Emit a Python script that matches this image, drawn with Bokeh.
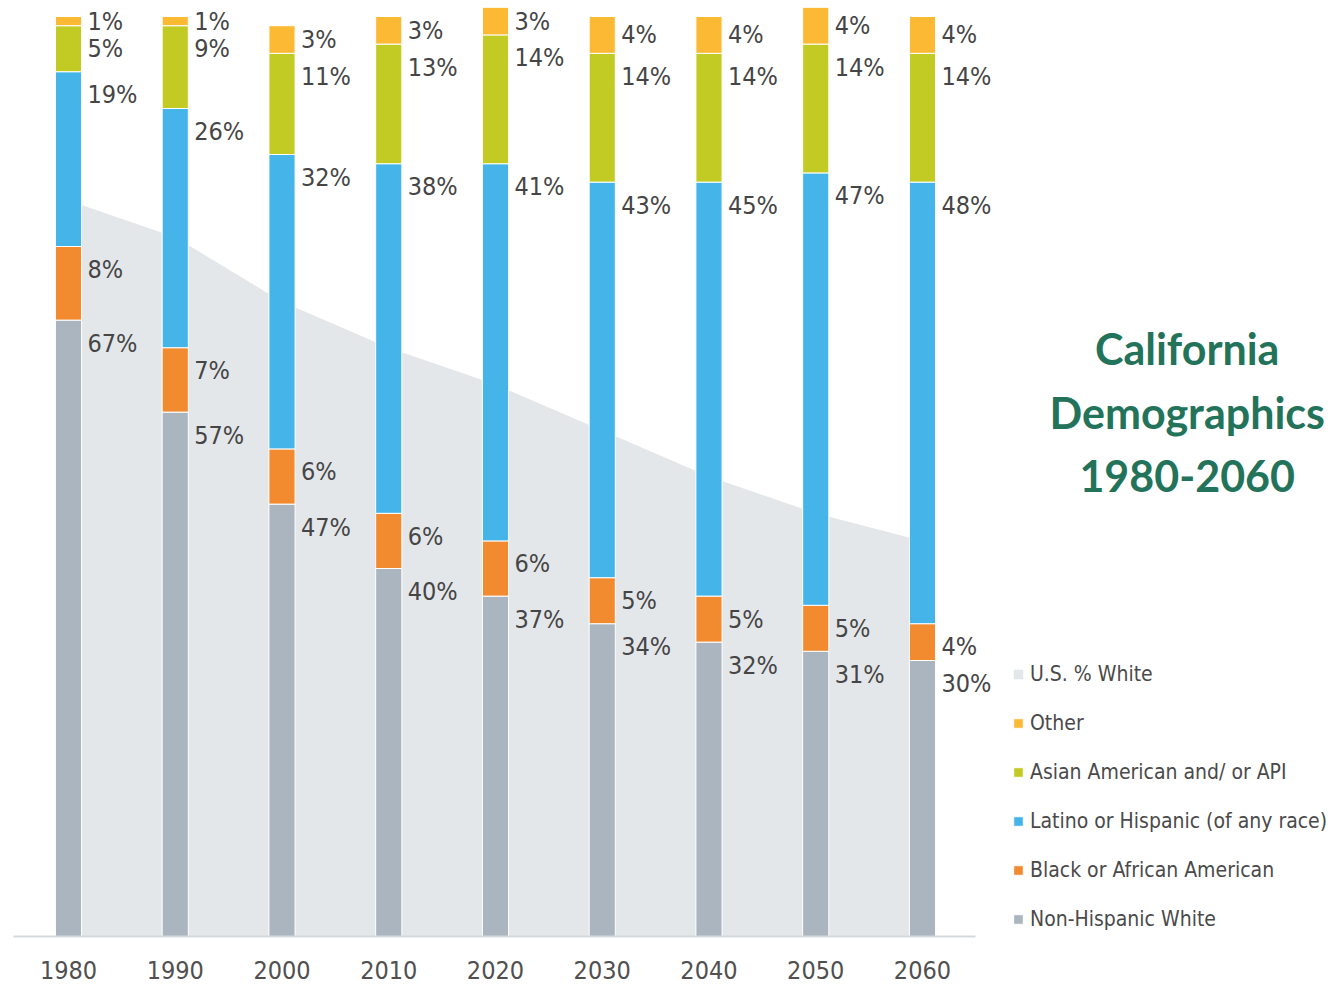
from bokeh.plotting import figure
from bokeh.models import (ColumnDataSource, Range1d, FixedTicker, Legend, LegendItem, Label)
from bokeh.core.properties import value
from bokeh.embed import file_html
from bokeh.resources import INLINE

years = [1980, 1990, 2000, 2010, 2020, 2030, 2040, 2050, 2060]
non_hispanic_white = [67, 57, 47, 40, 37, 34, 32, 31, 30]
black = [8, 7, 6, 6, 6, 5, 5, 5, 4]
latino = [19, 26, 32, 38, 41, 43, 45, 47, 48]
asian = [5, 9, 11, 13, 14, 14, 14, 14, 14]
other = [1, 1, 3, 3, 3, 4, 4, 4, 4]
us_white = [80, 76, 69, 64, 60, 55, 50, 46, 43]

series_keys = ["nhw", "black", "latino", "asian", "other"]
series_names = ["Non-Hispanic White", "Black or African American",
                "Latino or Hispanic (of any race)", "Asian American and/ or API", "Other"]
colors = ["#abb5bf", "#f28a30", "#45b5e9", "#c2cb24", "#fbb934"]
us_color = "#e4e7ea"
title_lines = ["California", "Demographics", "1980-2060"]

NARROW = "'Liberation Sans Narrow', 'Arial Narrow', 'DejaVu Sans Condensed', sans-serif"

src = ColumnDataSource(dict(year=years, nhw=non_hispanic_white, black=black,
                            latino=latino, asian=asian, other=other, us=us_white))

W, H = 1340, 990
p = figure(width=W, height=H, output_backend="svg", toolbar_location=None,
           x_range=Range1d(1973.63, 2099.16), y_range=Range1d(0, 101.74),
           min_border_left=0, min_border_right=0, min_border_top=0,
           min_border_bottom=54)
p.outline_line_color = None
p.grid.visible = False
p.yaxis.visible = False
p.background_fill_color = "white"
p.border_fill_color = "white"

area = p.varea(x="year", y1=0, y2="us", source=src, fill_color=us_color)

bars = p.vbar_stack(series_keys, x="year", width=2.45, source=src,
                    color=colors, line_color="white", line_width=1)

# percent labels
cum = [0] * len(years)
for key, vals in zip(series_keys, [non_hispanic_white, black, latino, asian, other]):
    tops = [c + v for c, v in zip(cum, vals)]
    if key == "other":
        ys = [t - v / 2 for t, v in zip(tops, vals)]
    else:
        ys = [t - 2.5 for t in tops]
    labels = [f"{v}%" for v in vals]
    p.text(x=years, y=ys, text=labels, x_offset=19, text_baseline="middle",
           text_align="left", text_font=value(NARROW), text_font_size="25px",
           text_color="#454545")
    cum = tops

ax = p.xaxis[0]
ax.ticker = FixedTicker(ticks=years)
ax.bounds = (1974.85, 2064.97)
ax.major_tick_out = 0
ax.major_tick_in = 0
ax.minor_tick_out = 0
ax.minor_tick_in = 0
ax.axis_line_color = "#d6d9dc"
ax.axis_line_width = 2
ax.major_label_standoff = 24
ax.major_label_text_font = NARROW
ax.major_label_text_font_size = "25px"
ax.major_label_text_color = "#505050"

items = [LegendItem(label="U.S. % White", renderers=[area])]
for name, r in reversed(list(zip(series_names, bars))):
    items.append(LegendItem(label=name, renderers=[r]))
legend = Legend(items=items, location=(1012, 5), glyph_width=12, glyph_height=12,
                label_standoff=6, spacing=25, padding=0, margin=0,
                label_text_font=NARROW, label_text_font_size="21px",
                label_text_color="#4a4a4a", border_line_color=None,
                background_fill_alpha=0)
p.add_layout(legend, "center")

for txt, yv in zip(title_lines, [63.9, 57.0, 50.1]):
    p.add_layout(Label(x=2084.8, y=yv, text=txt, text_align="center",
                       text_baseline="alphabetic", text_font="Lato",
                       text_font_style="bold", text_font_size="43px",
                       text_color="#23735a"))

open("out.html", "w").write(file_html(p, INLINE))
